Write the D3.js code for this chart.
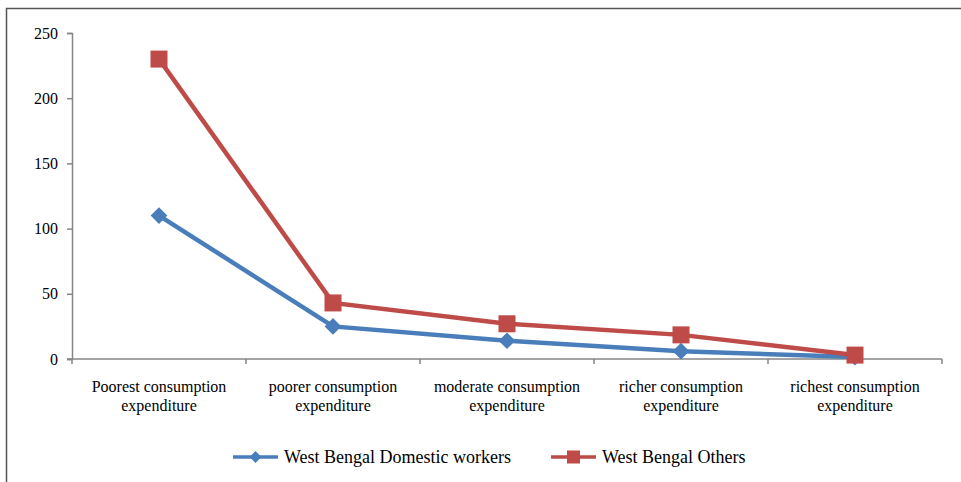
<!DOCTYPE html>
<html>
<head>
<meta charset="utf-8">
<script src="https://cdn.jsdelivr.net/npm/d3@7"></script>
</head>
<body style="margin:0">
<script>
const categories = [
    'Poorest consumption|expenditure',
    'poorer consumption|expenditure',
    'moderate consumption|expenditure',
    'richer consumption|expenditure',
    'richest consumption|expenditure'
]
const domesticWorkers = [110, 25, 14, 6, 1.5]
const others = [230, 43, 27, 18.5, 3]
const yTicks = [0, 50, 100, 150, 200, 250]
const seriesNames = ['West Bengal Domestic workers', 'West Bengal Others']

const width = 961
const height = 482
const margin = {top: 33, left: 72, right: 19, bottom: 123}
const serif = 'Liberation Serif'

const svg = d3.select('body')
    .append('svg')
    .attr('width', width)
    .attr('height', height)
    .style('font-family', serif)

// outer chart frame (only top and left visible)
svg.append('path')
    .attr('d', 'M6.5,482 V8.5 H961')
    .attr('fill', 'none')
    .attr('stroke', '#555')
    .attr('stroke-width', 1.5)

const x = d3.scaleBand()
    .domain(categories)
    .range([margin.left, width - margin.right])

const y = d3.scaleLinear()
    .domain([0, 250])
    .range([height - margin.bottom, margin.top])

// y axis
const yAxis = svg.append('g')
    .attr('transform', `translate(${margin.left},0)`)
    .call(d3.axisLeft(y).tickValues(yTicks).tickSize(5).tickPadding(9))
yAxis.attr('font-family', null).attr('font-size', null)
yAxis.select('.domain').attr('stroke', '#868686').attr('stroke-width', 1.5)
yAxis.selectAll('.tick line').attr('stroke', '#868686').attr('stroke-width', 1.5)
yAxis.selectAll('.tick text')
    .attr('fill', '#000')
    .style('font-family', serif)
    .style('font-size', '16px')

// x axis with tick marks at category boundaries
const xAxisG = svg.append('g')
    .attr('transform', `translate(0,${y(0)})`)
xAxisG.append('line')
    .attr('x1', margin.left - 5).attr('x2', width - margin.right)
    .attr('stroke', '#868686').attr('stroke-width', 1.5)
const bounds = categories.map(c => x(c)).concat([x(categories[categories.length - 1]) + x.bandwidth()])
xAxisG.selectAll('.xtick')
    .data(bounds)
    .enter()
    .append('line')
    .attr('x1', d => d).attr('x2', d => d)
    .attr('y1', 0).attr('y2', 5)
    .attr('stroke', '#868686').attr('stroke-width', 1.5)

// two-line category labels, one text per line
categories.forEach(c => {
    c.split('|').forEach((p, i) => {
        xAxisG.append('text')
            .attr('x', x(c) + x.bandwidth() / 2)
            .attr('y', 33 + i * 19)
            .attr('text-anchor', 'middle')
            .attr('fill', '#000')
            .style('font-family', serif)
            .style('font-size', '16px')
            .text(p)
    })
})

const cx = c => x(c) + x.bandwidth() / 2

const line = d3.line()
    .x((d, i) => cx(categories[i]))
    .y(d => y(d))

const blue = '#4A7EBB'
const red = '#BE4B48'

svg.append('path')
    .datum(domesticWorkers)
    .attr('d', line)
    .attr('fill', 'none')
    .attr('stroke', blue)
    .attr('stroke-width', 4.5)

svg.append('path')
    .datum(others)
    .attr('d', line)
    .attr('fill', 'none')
    .attr('stroke', red)
    .attr('stroke-width', 4.5)

const diamond = d3.symbol().type(d3.symbolSquare).size(140)

svg.selectAll('.dmark')
    .data(domesticWorkers)
    .enter()
    .append('path')
    .attr('d', diamond)
    .attr('transform', (d, i) => `translate(${cx(categories[i])},${y(d)}) rotate(45)`)
    .attr('fill', blue)

svg.selectAll('.smark')
    .data(others)
    .enter()
    .append('rect')
    .attr('x', (d, i) => cx(categories[i]) - 8.5)
    .attr('y', d => y(d) - 8.5)
    .attr('width', 17)
    .attr('height', 17)
    .attr('fill', red)

// legend
const legend = [
    {name: seriesNames[0], color: blue, x0: 233, shape: 'diamond', ws: '0px'},
    {name: seriesNames[1], color: red, x0: 551, shape: 'square', ws: '0px'}
]
const lg = svg.append('g').attr('transform', 'translate(0,457)')
legend.forEach(l => {
    lg.append('line')
        .attr('x1', l.x0).attr('x2', l.x0 + 45)
        .attr('stroke', l.color).attr('stroke-width', 3.5)
    if (l.shape === 'diamond') {
        lg.append('path')
            .attr('d', d3.symbol().type(d3.symbolSquare).size(70))
            .attr('transform', `translate(${l.x0 + 22.5},0) rotate(45)`)
            .attr('fill', l.color)
    } else {
        lg.append('rect')
            .attr('x', l.x0 + 16).attr('y', -6.5)
            .attr('width', 13).attr('height', 13)
            .attr('fill', l.color)
    }
    lg.append('text')
        .attr('x', l.x0 + 51)
        .attr('y', 6)
        .attr('fill', '#000')
        .style('font-family', serif)
        .style('font-size', '18px')
        .style('word-spacing', l.ws)
        .text(l.name)
})
</script>
</body>
</html>
